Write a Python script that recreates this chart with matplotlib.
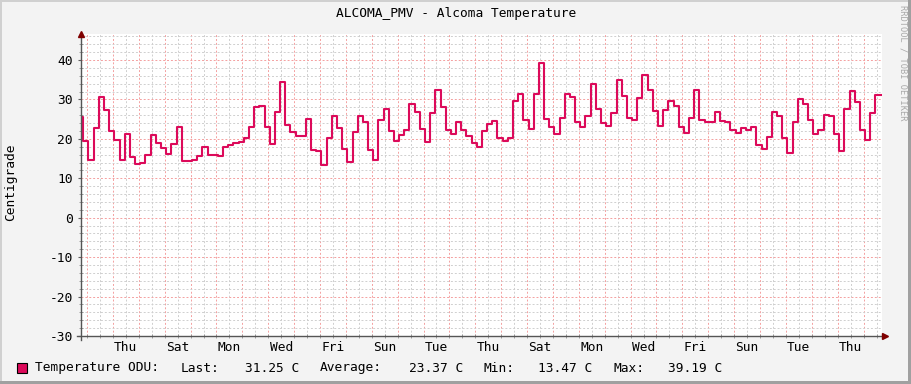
import numpy as np
import matplotlib
matplotlib.use("Agg")
import matplotlib.pyplot as plt
from matplotlib.patches import Rectangle
from matplotlib.transforms import blended_transform_factory

# temperature samples, one every 4.8 hours (0.2 day)
temps = [
    25.6, 19.5, 14.7, 22.8, 30.7, 27.4, 22.1, 19.8, 14.7, 21.3,
    15.5, 13.7, 13.9, 15.9, 21.1, 19.0, 17.7, 16.2, 18.8, 23.1,
    14.3, 14.3, 14.6, 15.6, 18.0, 16.0, 15.8, 15.7, 18.0, 18.5,
    19.0, 19.3, 20.1, 23.1, 28.2, 28.4, 22.9, 18.7, 26.9, 34.3,
    23.5, 21.7, 20.8, 20.8, 25.0, 17.3, 16.8, 13.47, 20.3, 25.9,
    22.8, 17.5, 14.1, 21.7, 25.9, 24.4, 17.1, 14.7, 24.8, 27.7,
    22.0, 19.4, 21.1, 22.2, 28.8, 26.7, 22.6, 19.3, 26.6, 32.5,
    28.2, 22.2, 21.3, 24.2, 22.2, 20.8, 19.0, 18.0, 21.9, 23.8,
    24.6, 20.3, 19.5, 20.3, 29.7, 31.3, 24.9, 22.5, 31.5, 39.19,
    25.1, 23.1, 21.3, 25.4, 31.5, 30.6, 24.4, 23.1, 25.9, 33.8,
    27.7, 24.1, 23.3, 26.5, 35.0, 31.0, 25.4, 24.9, 30.4, 36.3,
    32.5, 27.1, 23.3, 27.2, 29.7, 28.4, 23.1, 21.6, 25.2, 32.5,
    24.9, 24.2, 24.2, 26.7, 24.6, 24.4, 22.3, 21.6, 22.8, 22.3,
    23.1, 18.5, 17.4, 20.6, 26.9, 25.9, 20.1, 16.4, 24.2, 30.2,
    28.9, 24.9, 21.3, 22.3, 26.1, 25.9, 21.3, 16.8, 27.7, 32.2,
    29.4, 22.2, 19.8, 26.6, 31.25,
]
t_start = -0.343   # days from the first midnight shown
t_step = 0.2

day_labels = ["Thu", "Sat", "Mon", "Wed", "Fri", "Sun", "Tue", "Thu",
              "Sat", "Mon", "Wed", "Fri", "Sun", "Tue", "Thu"]
day_label_pos = [1.5, 3.5, 5.5, 7.5, 9.5, 11.5, 13.5, 15.5,
                 17.5, 19.5, 21.5, 23.5, 25.5, 27.5, 29.5]
yticks = [-30, -20, -10, 0, 10, 20, 30, 40]

legend_name = "Temperature ODU:"
stat_names = ["Last:", "Average:", "Min:", "Max:"]
stat_values = ["31.25 C", "23.37 C", "13.47 C", "39.19 C"]

LINE = "#dc0a5a"
MONO = "DejaVu Sans Mono"
FS = 9.3
W, H = 911, 384

fig = plt.figure(figsize=(W / 100, H / 100), dpi=100, facecolor="#f3f3f3")
ax = fig.add_axes([80.7 / W, 48 / H, 801 / W, 302 / H])
ax.set_facecolor("white")

t = t_start + t_step * np.arange(len(temps) + 1)
ax.plot(t, temps + [temps[-1]], drawstyle="steps-post", color=LINE,
        lw=1.5, zorder=5)

ax.set_xlim(-0.244, 30.70)
ax.set_ylim(-30, 46.6)

# grid: red major (day / 10 deg), grey minor (half day / 2 deg)
ax.set_xticks(np.arange(0, 31))
ax.set_xticks(np.arange(0.5, 31, 1.0), minor=True)
ax.set_yticks(yticks)
ax.set_yticks(np.arange(-28, 47, 2), minor=True)
ax.grid(which="minor", color="#cfcfcf", lw=0.7, ls=(0, (2, 2)))
ax.grid(which="major", color="#f4a0a0", lw=0.7, ls=(0, (2, 2)))
ax.set_axisbelow(True)

ax.set_xticklabels([])
ax.set_yticklabels([str(v) for v in yticks], family=MONO, fontsize=FS)
ax.tick_params(axis="y", which="major", length=2.2, width=0.8,
               color="#606060", pad=3.5)
ax.tick_params(axis="y", which="minor", length=2.2, width=0.6,
               color="#909090", direction="inout")
ax.tick_params(axis="x", which="both", length=2.2, width=0.6,
               color="#909090", direction="inout")

for s in ax.spines.values():
    s.set_visible(False)

# axis lines with arrows, rrdtool style
tr = ax.transAxes
ax.plot([0, 0], [-0.013, 1.0], color="#555555", lw=1.0, transform=tr,
        clip_on=False, zorder=6)
ax.plot([-0.005, 1.0], [0, 0], color="#555555", lw=1.0, transform=tr,
        clip_on=False, zorder=6)
ax.plot([0], [1.0], marker="^", ms=5, color="#7f0000", transform=tr,
        clip_on=False, zorder=7)
ax.plot([1.0045], [0], marker=">", ms=5, color="#7f0000", transform=tr,
        clip_on=False, zorder=7)

bt = blended_transform_factory(ax.transData, ax.transAxes)
for pos, lab in zip(day_label_pos, day_labels):
    ax.text(pos, -0.015, lab, transform=bt, ha="center", va="top",
            family=MONO, fontsize=FS)

fig.text(456 / W, 1 - 14 / H, "ALCOMA_PMV - Alcoma Temperature",
         ha="center", va="center", family=MONO, fontsize=FS)
fig.text(11 / W, 1 - 182 / H, "Centigrade", rotation=90,
         ha="center", va="center", family=MONO, fontsize=FS)
fig.text(903 / W, 1 - 5 / H, "RRDTOOL / TOBI OETIKER", rotation=270,
         ha="center", va="top", family=MONO, fontsize=6.2, color="#a8a8a8")

# legend line
ly = 1 - 368 / H
fig.patches.append(Rectangle((17.3 / W, 1 - 373.3 / H), 9.4 / W, 10.6 / H,
                             transform=fig.transFigure, facecolor=LINE,
                             edgecolor="black", lw=0.8))
fig.text(35 / W, ly, legend_name, ha="left", va="center",
         family=MONO, fontsize=FS)
name_x = [181, 320, 483, 613]
value_x = [245, 409, 538, 668]
for nx_, vx, nm, val in zip(name_x, value_x, stat_names, stat_values):
    fig.text(nx_ / W, ly, nm, ha="left", va="center", family=MONO, fontsize=FS)
    fig.text(vx / W, ly, val, ha="left", va="center", family=MONO, fontsize=FS)

# 3d-ish frame around the canvas
for (x0, y0, w, h, c) in [(0, 1 - 2 / H, 1, 2 / H, "#d0d0d0"),
                          (0, 0, 2 / W, 1, "#d0d0d0"),
                          (1 - 3 / W, 0, 3 / W, 1, "#a0a0a0"),
                          (0, 0, 1, 3 / H, "#a0a0a0")]:
    fig.patches.append(Rectangle((x0, y0), w, h, transform=fig.transFigure,
                                 facecolor=c, edgecolor="none"))

fig.savefig("out.png", dpi=100, facecolor=fig.get_facecolor())
